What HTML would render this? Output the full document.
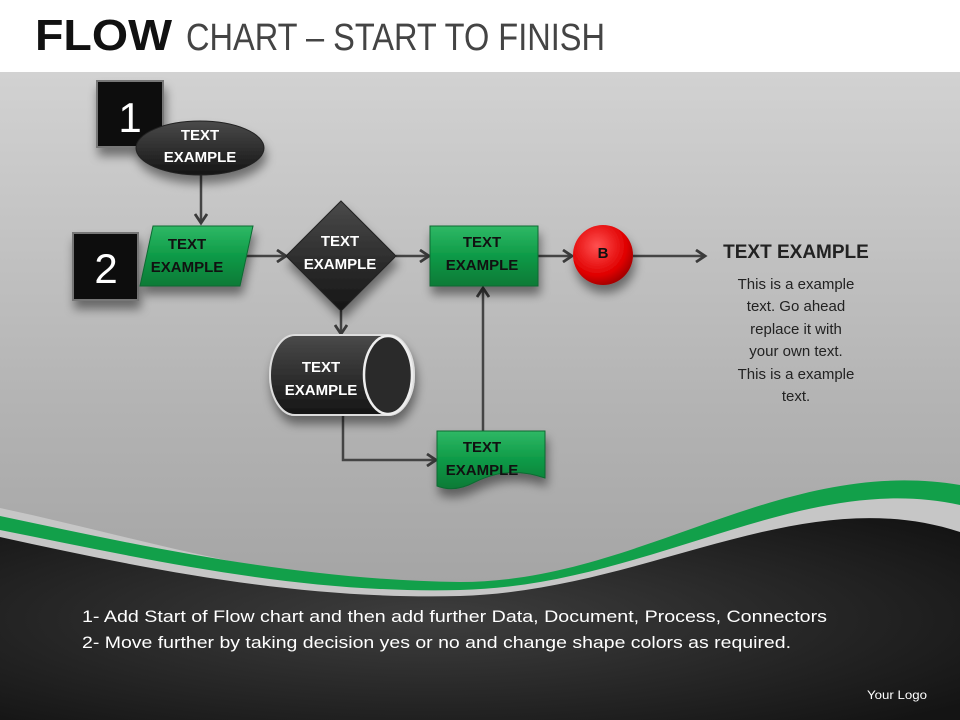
<!DOCTYPE html>
<html><head><meta charset="utf-8"><style>
html,body{margin:0;padding:0;width:960px;height:720px;overflow:hidden;background:#fff}
svg{display:block}
</style></head><body>
<svg width="960" height="720" viewBox="0 0 960 720" xmlns="http://www.w3.org/2000/svg" font-family="Liberation Sans, sans-serif">
<defs>
<linearGradient id="bg" x1="0" y1="0" x2="0" y2="1">
<stop offset="0" stop-color="#d2d2d2"/><stop offset="0.5" stop-color="#b4b4b4"/><stop offset="1" stop-color="#9a9a9a"/></linearGradient>
<radialGradient id="dk" cx="0.45" cy="0.5" r="0.7">
<stop offset="0" stop-color="#3e3e3e"/><stop offset="1" stop-color="#141414"/></radialGradient>
<linearGradient id="gr" x1="0" y1="0" x2="0" y2="1">
<stop offset="0" stop-color="#2fb865"/><stop offset="0.5" stop-color="#0e9a47"/><stop offset="1" stop-color="#087a36"/></linearGradient>
<linearGradient id="bk" x1="0" y1="0" x2="0" y2="1">
<stop offset="0" stop-color="#4a4a4a"/><stop offset="1" stop-color="#151515"/></linearGradient>
<radialGradient id="rd" cx="0.4" cy="0.35" r="0.7">
<stop offset="0" stop-color="#ff5050"/><stop offset="0.7" stop-color="#e00000"/><stop offset="1" stop-color="#900"/></radialGradient>
<filter id="sh" x="-30%" y="-30%" width="160%" height="170%"><feDropShadow dx="2" dy="8" stdDeviation="5" flood-opacity="0.45"/></filter>
<marker id="ar" markerWidth="14" markerHeight="14" refX="10" refY="7" orient="auto" markerUnits="userSpaceOnUse">
<path d="M1,1 L10,7 L1,13" fill="none" stroke="#3a3a3a" stroke-width="2.8"/></marker>
</defs>
<rect x="0" y="72" width="960" height="648" fill="url(#bg)"/>
<rect x="0" y="0" width="960" height="72" fill="#fff"/>
<text x="35" y="50" font-size="44" font-weight="bold" fill="#111" textLength="137" lengthAdjust="spacingAndGlyphs">FLOW</text>
<text x="186" y="50" font-size="38" fill="#444" textLength="419" lengthAdjust="spacingAndGlyphs">CHART – START TO FINISH</text>

<!-- waves -->
<path d="M0,508 C150,540 300,590 470,586 C650,582 780,460 960,488 L960,720 L0,720 Z" fill="#c6c6c6"/>
<path d="M0,516 C150,548 300,580 460,582 C640,582 780,455 960,485 L960,505 C800,470 650,586 460,590 C300,594 150,560 0,530 Z" fill="#12a04a"/>
<path d="M0,537 C150,570 300,600 460,596 C650,590 800,480 960,532 L960,720 L0,720 Z" fill="url(#dk)"/>

<text x="82" y="622" font-size="17" fill="#fff" textLength="745" lengthAdjust="spacingAndGlyphs">1-  Add Start of Flow chart  and then add further Data, Document, Process, Connectors</text>
<text x="82" y="648" font-size="17" fill="#fff" textLength="709" lengthAdjust="spacingAndGlyphs">2-  Move further  by taking decision yes or no and change shape colors as required.</text>
<text x="867" y="699" font-size="12" fill="#fff" textLength="60" lengthAdjust="spacingAndGlyphs">Your Logo</text>

<!-- connectors -->
<g stroke="#444" stroke-width="2.5" fill="none" marker-end="url(#ar)">
<line x1="201" y1="175" x2="201" y2="223"/>
<line x1="243" y1="256" x2="286" y2="256"/>
<line x1="396" y1="256" x2="429" y2="256"/>
<line x1="538" y1="256" x2="572" y2="256"/>
<line x1="633" y1="256" x2="705" y2="256"/>
<line x1="341" y1="311" x2="341" y2="334"/>
<polyline points="343,415 343,460 436,460"/>
<line x1="483" y1="431" x2="483" y2="288"/>
</g>

<g filter="url(#sh)"><rect x="97" y="81" width="66" height="66" fill="#0c0c0c" stroke="#777" stroke-width="2"/></g>
<text x="130" y="132" font-size="42" fill="#fff" text-anchor="middle">1</text>
<g filter="url(#sh)"><ellipse cx="200" cy="148" rx="64" ry="27" fill="url(#bk)" stroke="#222"/></g>
<text x="200" y="140" font-size="15" font-weight="bold" fill="#fff" text-anchor="middle">TEXT</text>
<text x="200" y="162" font-size="15" font-weight="bold" fill="#fff" text-anchor="middle">EXAMPLE</text>

<g filter="url(#sh)"><rect x="73" y="233" width="65" height="67" fill="#0c0c0c" stroke="#777" stroke-width="2"/></g>
<text x="106" y="283" font-size="42" fill="#fff" text-anchor="middle">2</text>
<g filter="url(#sh)"><polygon points="153,226 253,226 240,286 140,286" fill="url(#gr)" stroke="#0a6a30"/></g>
<text x="187" y="249" font-size="15" font-weight="bold" fill="#111" text-anchor="middle">TEXT</text>
<text x="187" y="272" font-size="15" font-weight="bold" fill="#111" text-anchor="middle">EXAMPLE</text>

<g filter="url(#sh)"><polygon points="341,201 396,256 341,311 286,256" fill="url(#bk)" stroke="#222"/></g>
<text x="340" y="246" font-size="15" font-weight="bold" fill="#fff" text-anchor="middle">TEXT</text>
<text x="340" y="269" font-size="15" font-weight="bold" fill="#fff" text-anchor="middle">EXAMPLE</text>

<g filter="url(#sh)"><rect x="430" y="226" width="108" height="60" fill="url(#gr)" stroke="#0a6a30"/></g>
<text x="482" y="247" font-size="15" font-weight="bold" fill="#111" text-anchor="middle">TEXT</text>
<text x="482" y="270" font-size="15" font-weight="bold" fill="#111" text-anchor="middle">EXAMPLE</text>

<g filter="url(#sh)"><circle cx="603" cy="255" r="30" fill="url(#rd)"/></g>
<text x="603" y="258" font-size="15" font-weight="bold" fill="#111" text-anchor="middle">B</text>

<g filter="url(#sh)"><path d="M295,335 L388,335 A26,40 0 0 1 388,415 L295,415 A25,40 0 0 1 295,335 Z" fill="url(#bk)" stroke="#ddd" stroke-width="2"/></g>
<ellipse cx="388" cy="375" rx="24" ry="39" fill="#2a2a2a" stroke="#eee" stroke-width="2.5"/>
<text x="321" y="372" font-size="15" font-weight="bold" fill="#fff" text-anchor="middle">TEXT</text>
<text x="321" y="395" font-size="15" font-weight="bold" fill="#fff" text-anchor="middle">EXAMPLE</text>

<g filter="url(#sh)"><path d="M437,431 L545,431 L545,478 C520,470 500,470 475,482 C460,490 447,490 437,486 Z" fill="url(#gr)" stroke="#0a6a30"/></g>
<text x="482" y="452" font-size="15" font-weight="bold" fill="#111" text-anchor="middle">TEXT</text>
<text x="482" y="475" font-size="15" font-weight="bold" fill="#111" text-anchor="middle">EXAMPLE</text>

<text x="796" y="258" font-size="19" font-weight="bold" fill="#222" text-anchor="middle">TEXT EXAMPLE</text>
<g font-size="15" fill="#222" text-anchor="middle">
<text x="796" y="289">This is a example</text>
<text x="796" y="311">text. Go ahead</text>
<text x="796" y="334">replace it with</text>
<text x="796" y="356">your own text.</text>
<text x="796" y="379">This is a example</text>
<text x="796" y="401">text.</text>
</g>
</svg>
</body></html>
